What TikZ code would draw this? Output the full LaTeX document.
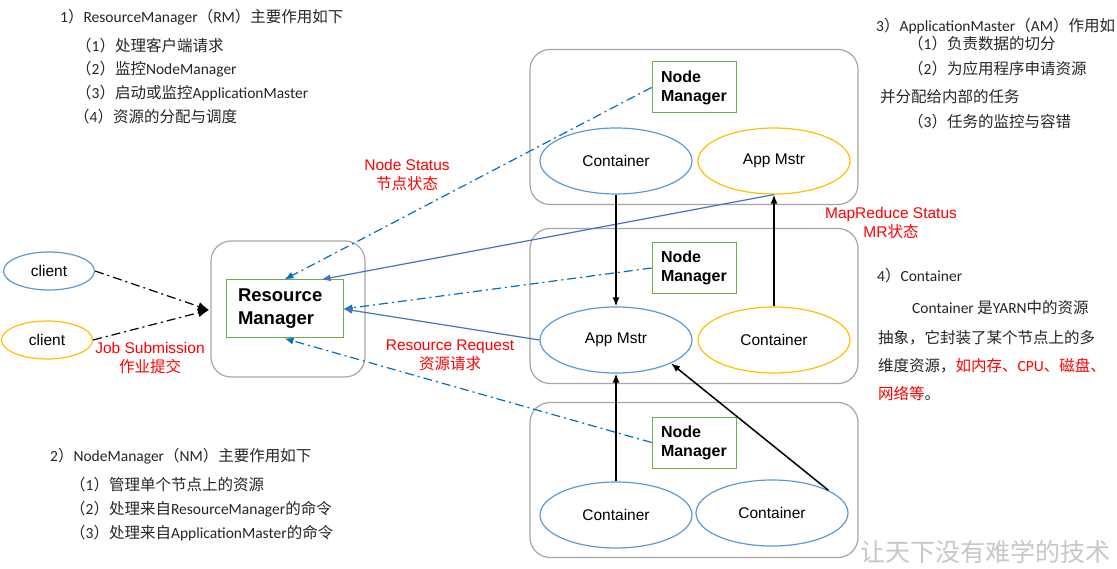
\documentclass[tikz,border=0pt]{standalone}
\usepackage{fontspec}
\setmainfont{Carlito}
\newfontfamily\cjkfont{Noto Sans CJK SC}
\newfontfamily\arialfont{Liberation Sans}
\usetikzlibrary{positioning,shapes.geometric,arrows.meta}

% CJK characters switch to the CJK font by themselves
\XeTeXinterchartokenstate=1
\newXeTeXintercharclass\cjkclass
\newcount\cjkchar
\def\setcjkrange#1#2{\cjkchar=#1
  \loop\XeTeXcharclass\cjkchar=\cjkclass\advance\cjkchar by 1
  \ifnum\cjkchar<#2\repeat}
\setcjkrange{"3000}{"3040}
\setcjkrange{"4E00}{"A000}
\setcjkrange{"FF00}{"FFF0}
\XeTeXinterchartoks 0 \cjkclass = {\begingroup\cjkfont}
\XeTeXinterchartoks 4095 \cjkclass = {\begingroup\cjkfont}
\XeTeXinterchartoks \cjkclass 0 = {\endgroup}
\XeTeXinterchartoks \cjkclass 4095 = {\endgroup}

\definecolor{hostgray}{HTML}{A6A6A6}
\definecolor{mgrgreen}{HTML}{70AD47}
\definecolor{cblue}{HTML}{5B9BD5}
\definecolor{corange}{HTML}{FFC000}
\definecolor{statblue}{HTML}{0070C0}
\definecolor{reqblue}{HTML}{4472C4}

\begin{document}
\begin{tikzpicture}[x=1pt, y=-1pt,
    host/.style={draw=hostgray, line width=1.2pt, rounded corners=20pt,
      minimum width=328pt, minimum height=155pt},
    mgr/.style={draw=mgrgreen, line width=1pt, fill=white, align=left,
      font=\arialfont\bfseries\fontsize{16}{19}\selectfont,
      text width=66pt, inner xsep=9pt, minimum height=51pt},
    ell/.style={ellipse, draw=#1, line width=1.2pt, inner sep=0pt,
      minimum width=152pt, minimum height=66pt,
      font=\arialfont\fontsize{15.5}{18}\selectfont},
    status/.style={draw=statblue, line width=1.2pt,
      dash pattern=on 9pt off 4pt on 2pt off 4pt, -{Latex[length=9pt,width=7pt]}},
    request/.style={draw=reqblue, line width=1.2pt, -{Latex[length=9pt,width=7pt]}},
    flow/.style={draw=black, line width=1.5pt, -{Latex[length=9pt,width=7pt]}},
    submit/.style={draw=black, line width=1.2pt,
      dash pattern=on 9pt off 4pt on 2pt off 4pt, -{Latex[length=11pt,width=9pt]}},
    redtag/.style={text=red, align=center, font=\arialfont\fontsize{15.5}{19}\selectfont},
    remark/.style={anchor=west, inner sep=0pt, text=black!85,
      font=\fontsize{15.5}{19}\selectfont}]

  \fill[white] (0,0) rectangle (1117,569);
  \useasboundingbox (0,0) rectangle (1117,569);

  % resource manager
  \node[host, minimum width=154pt, minimum height=136pt] (rmhost) at (288,309) {};
  \node[mgr, font=\arialfont\bfseries\fontsize{18.5}{23}\selectfont,
    text width=93pt, inner xsep=12pt, minimum height=58pt] (rm) at (284.5,309) {Resource\\Manager};

  % node managers
  \node[host] (host1) at (694,127) {};
  \node[host] (host2) at (694,306) {};
  \node[host] (host3) at (694,480) {};
  \node[mgr] (nm1) at (694,87.5) {Node\\Manager};
  \node[mgr] (nm2) at (694,268) {Node\\Manager};
  \node[mgr] (nm3) at (694,442.5) {Node\\Manager};

  \node[ell=cblue] (ct1) at (616,161) {Container};
  \node[ell=corange] (am1) at (774,161) {App Mstr};
  \node[ell=cblue] (am2) at (616,340) {App Mstr};
  \node[ell=corange] (ct2) at (774,340) {Container};
  \node[ell=cblue] (ct3) at (616,515) {Container};
  \node[ell=cblue] (ct4) at (772,513) {Container};

  % clients
  \node[ell=cblue, minimum width=91pt, minimum height=38pt] (cl1) at (49,271) {client};
  \node[ell=corange, minimum width=91pt, minimum height=38pt] (cl2) at (47,340) {client};
  \coordinate (job) at (209,310);

  \draw[submit] (cl1.east) -- (job);
  \draw[submit] (cl2.east) -- (job);

  \draw[status] (nm1.west) -- (rm.north);
  \draw[status] (nm2.west) -- (rm.east);
  \draw[status] (nm3.west) -- (rm.south);

  \draw[request] (am1.south) -- ([xshift=37pt]rm.north);
  \draw[request] (am2.west) -- (rm.east);

  \draw[flow] (ct1.south) -- (am2.north);
  \draw[flow] (ct2.north) -- (am1.south);
  \draw[flow] (ct3.north) -- (am2.south);
  \draw[flow] (ct4.22) -- (am2.-23);

  \node[redtag] (nslbl) at (407,175) {Node Status\\节点状态};
  \node[redtag] (mrlbl) at (891,223) {MapReduce Status\\MR状态};
  \node[redtag] (joblbl) at (150,358) {Job Submission\\作业提交};
  \node[redtag] (reqlbl) at (450,355) {Resource Request\\资源请求};

  % notes
  \node[remark] (rmnote0) at (60,17) {1）ResourceManager（RM）主要作用如下};
  \node[remark] (rmnote1) at (76,46) {（1）处理客户端请求};
  \node[remark] (rmnote2) at (76,69) {（2）监控NodeManager};
  \node[remark] (rmnote3) at (76,93) {（3）启动或监控ApplicationMaster};
  \node[remark] (rmnote4) at (74,117) {（4）资源的分配与调度};

  \node[remark] (nmnote0) at (50,456) {2）NodeManager（NM）主要作用如下};
  \node[remark] (nmnote1) at (70,485) {（1）管理单个节点上的资源};
  \node[remark] (nmnote2) at (70,509) {（2）处理来自ResourceManager的命令};
  \node[remark] (nmnote3) at (70,533) {（3）处理来自ApplicationMaster的命令};

  \node[remark] (amnote0) at (876,26) {3）ApplicationMaster（AM）作用如};
  \node[remark] (amnote1) at (908,44) {（1）负责数据的切分};
  \node[remark] (amnote2) at (908,69) {（2）为应用程序申请资源};
  \node[remark] (amnote3) at (880,97) {并分配给内部的任务};
  \node[remark] (amnote4) at (908,122) {（3）任务的监控与容错};

  \node[remark] (ctnote0) at (877,276) {4）Container};
  \node[remark] (ctnote1) at (912,308) {Container 是YARN中的资源};
  \node[remark] (ctnote2) at (878,338) {抽象，它封装了某个节点上的多};
  \node[remark] (ctnote3) at (878,366) {维度资源，{\color{red}如内存、CPU、磁盘、}};
  \node[remark] (ctnote4) at (878,394) {{\color{red}网络等}。};

  \node[remark, text=black!22, font=\fontsize{25}{28}\selectfont] (motto) at (860,552) {让天下没有难学的技术};
\end{tikzpicture}
\end{document}
